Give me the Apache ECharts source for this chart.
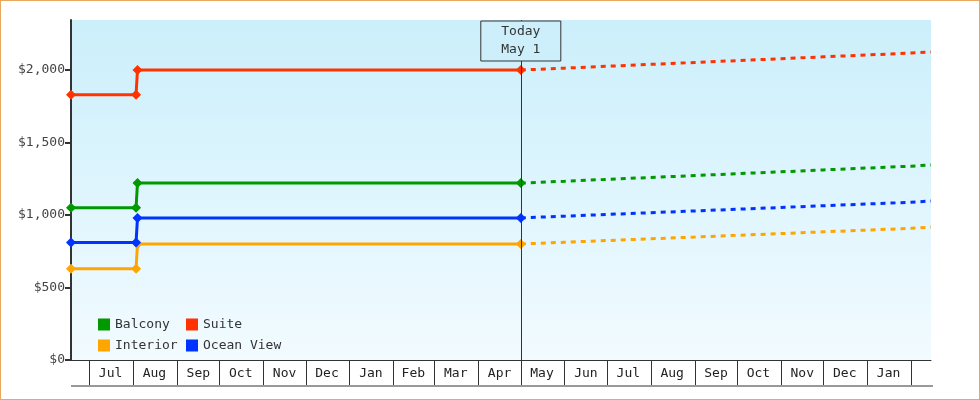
<!DOCTYPE html>
<html><head><meta charset="utf-8">
<script src="https://cdn.jsdelivr.net/npm/echarts@6/dist/echarts.min.js"></script>
<style>html,body{margin:0;padding:0;background:#fff}#c{width:978px;height:398px;border:1px solid #e8a860}</style>
</head><body><div id="c"></div>
<script>
const histDates = ['2023-06-18','2023-08-03','2023-08-04','2024-05-01'];
const balconyHist = [1050,1050,1220,1220];
const suiteHist = [1830,1830,2000,2000];
const interiorHist = [630,630,800,800];
const oceanHist = [810,810,980,980];
const fcDates = ['2024-05-01','2024-06-01','2024-07-01','2024-08-01','2024-09-01','2024-10-01','2024-11-01','2024-12-01','2025-01-01','2025-02-01','2025-02-15'];
const balconyFc = [1220,1233,1246,1259,1272,1285,1298,1311,1324,1337,1345];
const suiteFc = [2000,2013,2026,2039,2052,2065,2078,2091,2104,2117,2124];
const interiorFc = [800,812,824,836,848,860,872,884,896,908,917];
const oceanFc = [980,992,1004,1016,1028,1040,1052,1064,1076,1088,1097];
const monthStarts = ['2023-07-01','2023-08-01','2023-09-01','2023-10-01','2023-11-01','2023-12-01','2024-01-01','2024-02-01','2024-03-01','2024-04-01','2024-05-01','2024-06-01','2024-07-01','2024-08-01','2024-09-01','2024-10-01','2024-11-01','2024-12-01','2025-01-01','2025-02-01'];
const monthLabelDates = ['2023-07-16','2023-08-16','2023-09-16','2023-10-16','2023-11-16','2023-12-16','2024-01-16','2024-02-15','2024-03-16','2024-04-16','2024-05-16','2024-06-16','2024-07-16','2024-08-16','2024-09-16','2024-10-16','2024-11-16','2024-12-16','2025-01-16'];
const monthNames = ['Jan','Feb','Mar','Apr','May','Jun','Jul','Aug','Sep','Oct','Nov','Dec'];
const yTicks = [0,500,1000,1500,2000];
const todayDate = '2024-05-01';
const xMin = '2023-06-18', xMax = '2025-02-15';
const colors = {Balcony:'#009900', Suite:'#ff3300', Interior:'#ffa500', 'Ocean View':'#0033ff'};
const FONT = 'DejaVu Sans Mono';
const ts = s => new Date(s + 'T00:00:00Z').getTime();
const zip = (d, v) => d.map((x, i) => [ts(x), v[i]]);

function hist(name, vals){
  return {name, type:'line', data:zip(histDates, vals), symbol:'diamond', symbolSize:10,
    lineStyle:{width:3,color:colors[name]}, itemStyle:{color:colors[name]}, z:3, animation:false};
}
function fc(name, vals){
  return {name, type:'line', data:zip(fcDates, vals), showSymbol:false, symbol:'none',
    lineStyle:{width:3,type:[5,5],color:colors[name]}, itemStyle:{color:colors[name]}, animation:false};
}
const chart = echarts.init(document.getElementById('c'));
const series = [
  hist('Balcony', balconyHist), fc('Balcony', balconyFc),
  hist('Suite', suiteHist), fc('Suite', suiteFc),
  hist('Interior', interiorHist), fc('Interior', interiorFc),
  hist('Ocean View', oceanHist), fc('Ocean View', oceanFc)
];
series[0].markLine = {symbol:'none', silent:true, label:{show:false},
  lineStyle:{color:'#333', width:1, type:'solid'}, data:[{xAxis: ts(todayDate)}], animation:false};
const legendCommon = {orient:'vertical', itemWidth:12, itemHeight:12, itemGap:8, icon:'rect',
  textStyle:{fontFamily:FONT, fontSize:13, color:'#333'}, top:312, selectedMode:false};
chart.setOption({
  animation:false,
  textStyle:{fontFamily:FONT},
  grid:{left:70, right:48, top:19, bottom:39, show:true, borderWidth:0,
    backgroundColor:{type:'linear', x:0, y:0, x2:0, y2:1, colorStops:[{offset:0,color:'#cbeffb'},{offset:1,color:'#f2fbff'}]}},
  legend:[
    Object.assign({left:92, data:['Balcony','Interior']}, legendCommon),
    Object.assign({left:180, data:['Suite','Ocean View']}, legendCommon)
  ],
  xAxis:[
    {type:'value', min:ts(xMin), max:ts(xMax), position:'bottom', scale:true,
      axisLine:{lineStyle:{color:'#333', width:1}},
      axisTick:{show:true, length:25, customValues:monthStarts.map(ts), lineStyle:{color:'#333'}},
      axisLabel:{show:false}, splitLine:{show:false}},
    {type:'value', min:ts(xMin), max:ts(xMax), position:'bottom', scale:true,
      axisLine:{show:false}, axisTick:{show:false}, splitLine:{show:false},
      axisLabel:{show:true, margin:7, customValues:monthLabelDates.map(ts), fontFamily:FONT, fontSize:13, color:'#222',
        formatter: v => monthNames[new Date(v).getUTCMonth()]}}
  ],
  yAxis:{type:'value', min:0, max:2345,
    axisLine:{show:true, lineStyle:{color:'#333', width:2}},
    axisTick:{show:true, length:6, customValues:yTicks, lineStyle:{color:'#333', width:2}},
    axisLabel:{customValues:yTicks, fontFamily:FONT, fontSize:13, color:'#444', margin:6,
      formatter: v => '$' + v.toLocaleString('en-US')},
    splitLine:{show:false}},
  series
});
const px = chart.convertToPixel({xAxisIndex:0}, ts(todayDate));
chart.setOption({graphic:[
  {type:'line', shape:{x1:70, y1:385, x2:932, y2:385}, style:{stroke:'#333', lineWidth:1}},
  {type:'rect', shape:{x:px-40, y:20, width:80, height:40}, style:{fill:'#cdeffb', stroke:'#333', lineWidth:1}, z:10},
  {type:'text', x:px, y:40, style:{text:'Today\nMay 1', align:'center', verticalAlign:'middle', font:'13px "DejaVu Sans Mono"', fill:'#333', lineHeight:18}, z:11}
]});
</script></body></html>
